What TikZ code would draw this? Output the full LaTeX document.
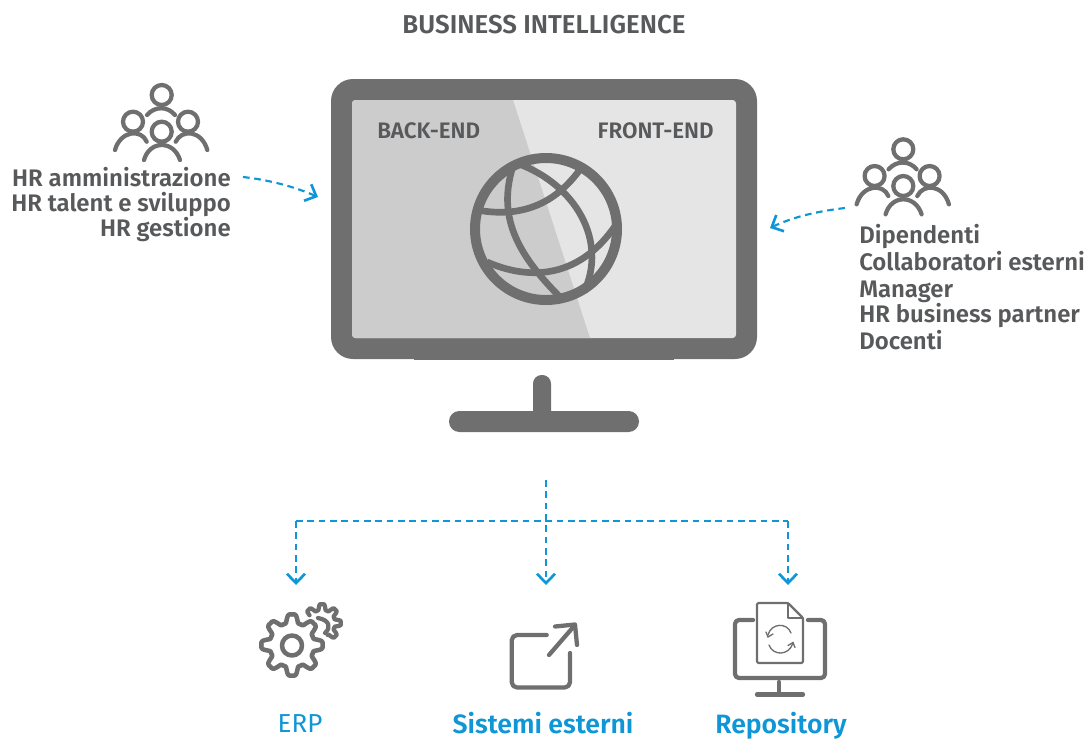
\documentclass[tikz,border=0pt]{standalone}
\usepackage{fontspec}
\setmainfont{Fira Sans}[BoldFont={Fira Sans SemiBold}]
\newfontfamily\lightfont{Fira Sans}
\usetikzlibrary{arrows.meta}
\definecolor{frame}{HTML}{6F6F6F}
\definecolor{scrL}{HTML}{CCCCCC}
\definecolor{scrR}{HTML}{E5E5E5}
\definecolor{txt}{HTML}{58595B}
\definecolor{blu}{HTML}{0F96D7}
\tikzset{
  px/.style={x=0.75pt,y=-0.75pt},
  icon/.style={draw=frame,line width=3.2pt,line cap=round,line join=round},
  thin icon/.style={draw=frame,line width=1.6pt,line cap=round,line join=round},
  globeline/.style={draw=frame,line width=5pt},
  lbl/.style={text=txt,font=\bfseries\fontsize{17.95}{18}\selectfont,inner sep=0pt},
  hd/.style={text=txt,font=\bfseries\fontsize{16.8}{18}\selectfont,inner sep=0pt},
  bl/.style={text=blu,font=\bfseries\fontsize{19.9}{22}\selectfont,inner sep=0pt},
  link/.style={draw=blu,line width=1.6pt,dash pattern=on 5pt off 3.5pt},
  tipped/.style={-{Straight Barb[length=7pt,width=13.5pt,line width=2pt]}},
  people/.pic={
    \draw[icon] (0,0) circle (10);
    \draw[icon] (-28.7,26.7) circle (10);
    \draw[icon] (26.3,26.7) circle (10);
    \draw[icon] (0,36.7) circle (10);
    \draw[icon] (-14.7,20) .. controls (-7,11) and (6,11) .. (13.3,20);
    \draw[icon] (-46.7,55) .. controls (-41,35) and (-20,34) .. (-15,46.7);
    \draw[icon] (14,46.7) .. controls (20,34) and (40,35) .. (45.6,55);
    \draw[icon] (-17.7,65) .. controls (-12,45) and (12,45) .. (18.3,65);
  }
}
\begin{document}
\begin{tikzpicture}[px]
\useasboundingbox (0,0) rectangle (1088,740);
% monitor
\fill[frame,rounded corners=16.5pt] (331,79) rectangle (757,359);
\fill[frame] (414,338) rectangle (674,360);
\fill[scrR,rounded corners=2.5pt] (352,100) rectangle (736,338);
\begin{scope}
  \clip[rounded corners=2.5pt] (352,100) rectangle (736,338);
  \fill[scrL] (352,100) -- (513,100) -- (590,338) -- (352,338) -- cycle;
\end{scope}
\fill[frame,rounded corners=6.5pt] (533,375) rectangle (551,420);
\fill[frame,rounded corners=7.8pt] (449,411) rectangle (639,432);
% globe
\draw[frame,line width=7.5pt] (546,229) circle (71);
\draw[globeline] (477,210) .. controls (520,218) and (555,205) .. (581,168);
\draw[globeline] (487,262) .. controls (540,285) and (585,270) .. (615,226);
\draw[globeline] (512.7,167) .. controls (498,215) and (515,252) .. (560,297);
\draw[globeline] (519,164) .. controls (575,185) and (608,240) .. (584,292);
% texts
\node[hd,anchor=base] (title) at (544,33.5) {\fontsize{19.4}{22}\selectfont BUSINESS INTELLIGENCE};
\node[hd,anchor=base west] (back) at (377,138.5) {BACK-END};
\node[hd,anchor=base east] (front) at (714,138.5) {FRONT-END};
\node[lbl,anchor=base east] (l1) at (231,186.5) {HR amministrazione};
\node[lbl,anchor=base east] (l2) at (231,211.5) {HR talent e sviluppo};
\node[lbl,anchor=base east] (l3) at (231,236.5) {HR gestione};
\node[lbl,anchor=base west] (r1) at (859,243) {Dipendenti};
\node[lbl,anchor=base west] (r2) at (859,270) {Collaboratori esterni};
\node[lbl,anchor=base west] (r3) at (859,297) {Manager};
\node[lbl,anchor=base west] (r4) at (859,322) {HR business partner};
\node[lbl,anchor=base west] (r5) at (859,349) {Docenti};
\node[anchor=base,text=blu,inner sep=0pt,font=\lightfont\fontsize{19.5}{22}\selectfont] (erp) at (300,732) {ERP};
\node[bl,anchor=base] (sis) at (543,733.5) {Sistemi esterni};
\node[bl,anchor=base] (rep) at (781,733.5) {Repository};
% people
\pic at (161.7,95) {people};
\pic at (903.3,149.3) {people};
% connectors
\coordinate (aS) at (243,177); \coordinate (aE) at (318,197);
\coordinate (bS) at (845,208); \coordinate (bE) at (770,228);
\draw[link,tipped] (aS) .. controls (270,180) and (295,187) .. (aE);
\draw[link,tipped] (bS) .. controls (820,211) and (795,216) .. (bE);
\coordinate (top) at (546,480); \coordinate (mid) at (546,521);
\coordinate (c1) at (296,521); \coordinate (c3) at (788,521);
\coordinate (e1) at (296,585); \coordinate (e2) at (546,585); \coordinate (e3) at (788,585);
\draw[link,tipped] (top) -- (e2);
\draw[link] (c1) -- (c3);
\draw[link,tipped] (c1) -- (e1);
\draw[link,tipped] (c3) -- (e3);
% gears
\draw[icon,line width=3.4pt] plot[smooth cycle,samples=96,domain=0:356.25] ({292+cos(\x)*(26.5+5*(cos(8*\x)-cos(24*\x)/5))},{645+sin(\x)*(26.5+5*(cos(8*\x)-cos(24*\x)/5))});
\draw[icon,line width=3.4pt] (292,645.5) circle (10);
\draw[icon] plot[smooth,samples=80,domain=-148:65] ({322+cos(\x)*(16+3.4*(cos(8*\x)-cos(24*\x)/5))},{623+sin(\x)*(16+3.4*(cos(8*\x)-cos(24*\x)/5))});
\draw[icon] (318,618) .. controls (330,620) and (331,628) .. (325,633);
% external
\draw[icon,rounded corners=4pt] (546.7,635) -- (511.7,635) -- (511.7,687.5) -- (570,687.5) -- (570,653);
\draw[icon] (549,655) -- (575,625);
\draw[icon] (555,626.5) -- (575,624.5) -- (577,645);
% repository
\draw[icon,rounded corners=3pt] (753,620) -- (735,620) -- (735,678) -- (825,678) -- (825,620) -- (808,620);
\draw[icon] (779,682) -- (779,693);
\draw[icon] (757,694.5) -- (803,694.5);
\draw[thin icon,rounded corners=1pt] (757,603) -- (788,603) -- (803,618) -- (803,663) -- (757,663) -- cycle;
\draw[thin icon] (788,603) -- (788,618) -- (803,618);
\begin{scope}[line width=1pt,draw=frame,line cap=round]
\draw[draw=frame] (768,635) .. controls (771,623) and (787,622) .. (791,633);
\draw[draw=frame] (766,632) -- (768,637) -- (773,634);
\draw[draw=frame] (769,645) .. controls (773,656) and (789,656) .. (793,643);
\draw[draw=frame] (788,645.5) -- (793,642.5) -- (795,647.5);
\end{scope}
\end{tikzpicture}
\end{document}
